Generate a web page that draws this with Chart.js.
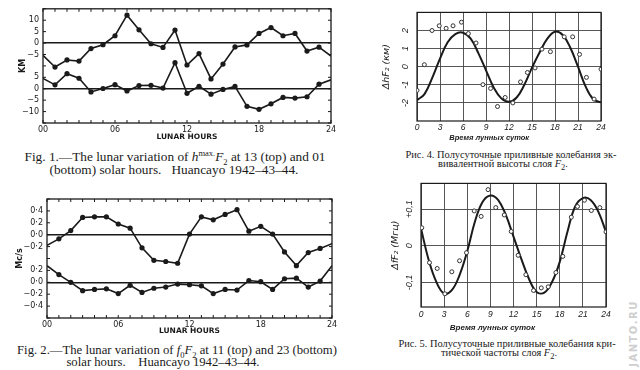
<!DOCTYPE html>
<html>
<head>
<meta charset="utf-8">
<script src="https://cdn.jsdelivr.net/npm/chart.js@4.4.1/dist/chart.umd.min.js"></script>
<style>
html, body { margin: 0; padding: 0; background: #fff; }
body { width: 640px; height: 370px; position: relative; overflow: hidden; color: #1a1a1a; }
.box { position: absolute; }
.cap { position: absolute; width: 360px; text-align: center; white-space: nowrap; line-height: 12px; }
.en { font: 13.3px 'Liberation Serif', serif; }
.en2 { font-size: 12.7px; }
.ru { font: 10.4px 'Liberation Serif', serif; width: 260px; line-height: 10px; }
.cap sup, .cap sub { font-size: 8.5px; line-height: 0; }
.mark { position: absolute; left: 598px; top: 328px; width: 70px; text-align: center;
        transform: rotate(-90deg); font: bold 10px 'DejaVu Sans', sans-serif; letter-spacing: 1.5px; color: #cfcfcf; }
</style>
</head>
<body>
<div class="box" style="left:0;top:0;width:340px;height:142px"><canvas id="fig1"></canvas></div>
<div class="box" style="left:0;top:190px;width:340px;height:146px"><canvas id="fig2"></canvas></div>
<div class="box" style="left:380px;top:0;width:230px;height:142px"><canvas id="fig4"></canvas></div>
<div class="box" style="left:380px;top:175px;width:235px;height:158px"><canvas id="fig5"></canvas></div>

<div class="cap en" style="left:-5px;top:149px">Fig. 1.—The lunar variation of <i>h</i><sup>max.</sup><i>F</i><sub>2</sub> at 13 (top) and 01</div>
<div class="cap en" style="left:-6px;top:162px">(bottom) solar hours.&nbsp;&nbsp; Huancayo 1942–43–44.</div>
<div class="cap en en2" style="left:-3px;top:343px">Fig. 2.—The lunar variation of <i>f</i><sub>0</sub><i>F</i><sub>2</sub> at 11 (top) and 23 (bottom)</div>
<div class="cap en en2" style="left:-17px;top:355px">solar hours.&nbsp;&nbsp;&nbsp; Huancayo 1942–43–44.</div>

<div class="cap ru" style="left:381px;top:150px">Рис. 4. Полусуточные приливные колебания эк-</div>
<div class="cap ru" style="left:373px;top:159px">вивалентной высоты слоя <i>F</i><sub>2</sub>.</div>
<div class="cap ru" style="left:377px;top:339px">Рис. 5. Полусуточные приливные колебания кри-</div>
<div class="cap ru" style="left:369px;top:348px">тической частоты слоя <i>F</i><sub>2</sub>.</div>

<div class="mark">JANTO.RU</div>

<script>
// lunar hours 00..24
const hours = [0, 1, 2, 3, 4, 5, 6, 7, 8, 9, 10, 11, 12, 13, 14, 15, 16, 17, 18, 19, 20, 21, 22, 23, 24];

// Fig. 1: h max F2, km (13h top, 01h bottom)
const fig1Top = [-5.4, -10.5, -7.4, -7.9, -2.4, -0.7, 3.2, 12.2, 5.8, -0.3, -1.9, 5.7, -9.6, -4.6, -15.7, -9.2, -1.7, -0.8, 4.2, 6.8, 3.2, 4.2, -3.5, -1.8, -5.7];
const fig1Bottom = [4.5, 1.7, 6.6, 4.6, -1.4, 0.1, 1.8, -1.0, 1.4, 1.5, 0.3, 11.4, -2.0, 1.1, -2.4, -0.3, 1.0, -7.7, -9.0, -6.6, -3.8, -4.1, -3.5, 2.0, 3.9];
// axis ticks (raw axis units; upper block is shifted by fig1Shift)
const fig1Ticks = [-15, -10, -5, 0, 5, 10, 15, 20, 25, 30, 35];

// Fig. 2: f0F2, Mc/s (11h top, 23h bottom)
const fig2Top = [-0.18, -0.07, 0.07, 0.29, 0.30, 0.30, 0.18, 0.11, -0.22, -0.43, -0.45, -0.48, 0.01, 0.30, 0.25, 0.34, 0.42, 0.06, 0.14, 0.01, -0.29, -0.52, -0.30, -0.23, -0.15];
const fig2Bottom = [0.28, 0.13, 0.0, -0.14, -0.12, -0.11, -0.19, -0.05, -0.17, -0.10, -0.08, -0.03, -0.04, -0.06, -0.19, -0.12, -0.13, 0.03, 0.01, -0.12, 0.06, 0.07, -0.08, 0.02, 0.28];
const fig2Ticks = [-0.6, -0.4, -0.2, 0, 0.2, 0.4, 0.6, 0.8, 1.0, 1.2, 1.4];

// Рис. 4: smooth curve (hourly) and observed points, km
const fig4Curve = [-1.85, -1.5, -0.6, 0.45, 1.35, 1.8, 1.88, 1.55, 0.75, -0.2, -1.15, -1.75, -1.94, -1.7, -1.0, -0.05, 0.8, 1.55, 1.93, 1.75, 1.05, 0.0, -1.1, -1.8, -1.97];
const fig4PointHours = [0, 0.96, 1.96, 2.9, 3.8, 4.7, 5.8, 6.7, 7.7, 8.6, 9.6, 10.5, 11.5, 12.5, 13.5, 14.4, 15.4, 16.3, 17.4, 19.2, 20.3, 21.2, 22.1, 23.1, 24];
const fig4Points = [-1.31, 0.11, 2.0, 2.26, 2.12, 2.26, 2.46, 1.83, 1.31, -0.99, -1.2, -2.2, -1.7, -2.0, -0.84, -0.32, -0.07, 0.97, 0.83, 1.65, 1.65, 0.68, -0.59, -1.79, -0.14];

// Рис. 5: smooth curve (hourly) and observed points, Мгц
const fig5Curve = [0.047, -0.039, -0.099, -0.13, -0.121, -0.08, -0.015, 0.066, 0.12, 0.137, 0.125, 0.084, 0.025, -0.035, -0.09, -0.126, -0.128, -0.099, -0.044, 0.038, 0.107, 0.13, 0.125, 0.093, 0.038];
const fig5PointHours = [0.1, 1.1, 2.1, 3.1, 4.0, 5.0, 5.9, 6.9, 7.8, 8.7, 9.7, 10.8, 11.7, 12.6, 13.6, 14.6, 15.6, 16.5, 17.5, 18.4, 19.5, 20.3, 21.2, 22.1, 23.2, 24];
const fig5Points = [0.049, -0.046, -0.062, -0.131, -0.071, -0.041, -0.019, 0.095, 0.08, 0.153, 0.104, 0.084, 0.039, -0.026, -0.079, -0.122, -0.115, -0.112, -0.073, -0.029, 0.078, 0.107, 0.124, 0.096, 0.104, 0.038];

// the upper curve of figs 1 and 2 is shifted up by this many axis units
const fig1Shift = 20;
const fig2Shift = 0.8;

Chart.defaults.animation = false;
Chart.defaults.responsive = true;
Chart.defaults.maintainAspectRatio = false;
Chart.defaults.color = '#1a1a1a';
Chart.defaults.font.family = "'DejaVu Sans', sans-serif";
Chart.defaults.plugins.legend.display = false;
Chart.defaults.plugins.tooltip.enabled = false;

const INK = '#1a1a1a';
const ITALIC = "'Liberation Sans', sans-serif";

// box round the plot area, with optional short ticks pointing inward
const framePlugin = {
    id: 'frame',
    beforeDatasetsDraw(chart, args, opts) {
        const { ctx, chartArea: a, scales } = chart;
        ctx.save();
        ctx.strokeStyle = INK;
        ctx.lineWidth = opts.width || 1;
        ctx.strokeRect(a.left, a.top, a.right - a.left, a.bottom - a.top);
        if (opts.tick) {
            ctx.lineWidth = 1;
            ctx.beginPath();
            scales.x.ticks.forEach(t => {
                const px = scales.x.getPixelForValue(t.value);
                ctx.moveTo(px, a.top); ctx.lineTo(px, a.top + opts.tick);
                ctx.moveTo(px, a.bottom); ctx.lineTo(px, a.bottom - opts.tick);
            });
            scales.y.ticks.forEach(t => {
                const py = scales.y.getPixelForValue(t.value);
                ctx.moveTo(a.left, py); ctx.lineTo(a.left + opts.tick, py);
                ctx.moveTo(a.right, py); ctx.lineTo(a.right - opts.tick, py);
            });
            ctx.stroke();
        }
        ctx.restore();
    }
};

const endless = ctx => (ctx.dataIndex === 0 || ctx.dataIndex === hours.length - 1) ? 0 : 2.6;

function lunarSeries(values, shift) {
    return {
        data: hours.map((h, i) => ({ x: h, y: values[i] + shift })),
        borderColor: INK,
        borderWidth: 1.6,
        pointRadius: endless,
        pointBackgroundColor: INK,
        pointBorderWidth: 0,
        tension: 0
    };
}

function lunarChart(id, top, bottom, shift, ticks, cfg) {
    const round = v => Math.round(v * 100) / 100;
    new Chart(document.getElementById(id), {
        type: 'line',
        data: { datasets: [lunarSeries(top, shift), lunarSeries(bottom, 0)] },
        options: {
            layout: { padding: cfg.pad },
            scales: {
                x: {
                    type: 'linear', min: 0, max: 24,
                    border: { display: false },
                    grid: { display: false, drawTicks: false },
                    ticks: {
                        stepSize: 1, autoSkip: false, maxRotation: 0, padding: cfg.xPad,
                        font: { size: 8 }, color: INK,
                        callback: v => v % 6 === 0 ? String(v).padStart(2, '0') : ''
                    },
                    title: { display: true, text: 'LUNAR HOURS', font: { size: 7.5, weight: 'bold' }, padding: { top: 0, bottom: 0 } },
                    afterFit: s => { s.height = cfg.xHeight; }
                },
                y: {
                    min: ticks[0], max: ticks[ticks.length - 1],
                    border: { display: false },
                    grid: {
                        drawTicks: false, lineWidth: 1.4,
                        color: c => (c.tick && (round(c.tick.value) === 0 || round(c.tick.value) === shift)) ? INK : 'rgba(0,0,0,0)'
                    },
                    afterBuildTicks: s => { s.ticks = ticks.map(v => ({ value: v })); },
                    ticks: {
                        autoSkip: false, padding: 4, font: { size: 8 }, color: INK,
                        callback: (v, i) => cfg.label(round(ticks[i]), i)
                    },
                    title: { display: true, text: cfg.title, font: { size: 8, weight: 'bold' }, padding: { top: cfg.titlePad, bottom: 0 } },
                    afterFit: s => { s.width = cfg.yWidth; }
                }
            },
            plugins: { frame: { width: 1.3, tick: 3 } }
        },
        plugins: [framePlugin]
    });
}

// first and last ticks sit on the frame; the middle tick separates the two blocks
const edgeOrGap = (i, n) => i === 0 || i === n - 1 || i === (n - 1) / 2;

lunarChart('fig1', fig1Top, fig1Bottom, fig1Shift, fig1Ticks, {
    pad: { left: 0, right: 9, top: 5, bottom: 0 },
    xHeight: 19, xPad: 2, yWidth: 43, titlePad: 18, title: 'KM',
    label: (v, i) => {
        if (edgeOrGap(i, fig1Ticks.length)) return '';
        const n = v > 10 ? v - fig1Shift : v;
        return n < 0 ? '−' + Math.abs(n) : String(n);
    }
});

lunarChart('fig2', fig2Top, fig2Bottom, fig2Shift, fig2Ticks, {
    pad: { left: 0, right: 8, top: 9, bottom: 0 },
    xHeight: 18, xPad: 2, yWidth: 47, titlePad: 15, title: 'Mc/s',
    label: (v, i) => {
        if (edgeOrGap(i, fig2Ticks.length)) return '';
        const n = Math.round((v > 0.4 ? v - fig2Shift : v) * 10);
        const s = '0·' + Math.abs(n);
        return n < 0 ? '−' + s : s;
    }
});

function tideChart(id, curve, ptHours, pts, cfg) {
    new Chart(document.getElementById(id), {
        type: 'scatter',
        data: {
            datasets: [
                {
                    data: ptHours.map((h, i) => ({ x: h, y: pts[i] })),
                    pointRadius: 2, pointBorderWidth: 1,
                    pointBackgroundColor: '#fff', pointBorderColor: '#333'
                },
                {
                    data: hours.map((h, i) => ({ x: h, y: curve[i] })),
                    showLine: true, pointRadius: 0, borderWidth: 2, borderColor: INK, tension: 0.4
                }
            ]
        },
        options: {
            layout: { padding: cfg.pad },
            scales: {
                x: {
                    type: 'linear', min: 0, max: 24,
                    border: { display: false },
                    grid: { drawTicks: false, color: '#444', lineWidth: 0.9 },
                    ticks: { stepSize: 3, maxRotation: 0, padding: cfg.xPad, color: INK,
                        font: { size: 8.5, style: 'italic', family: ITALIC } },
                    title: { display: true, text: 'Время лунных суток' + '\u00a0'.repeat(19),
                        font: { size: cfg.xTitleSize, style: 'italic', weight: 'bold', family: ITALIC },
                        padding: { top: 0, bottom: 0 } },
                    afterFit: s => { s.height = cfg.xHeight; }
                },
                y: {
                    min: cfg.min, max: cfg.max,
                    border: { display: false },
                    grid: { drawTicks: false, color: '#444', lineWidth: 0.9 },
                    afterBuildTicks: s => { s.ticks = cfg.ticks.map(v => ({ value: v })); },
                    ticks: { minRotation: 90, maxRotation: 90, crossAlign: 'center', padding: cfg.yPad, color: INK,
                        font: { size: 9, style: 'italic', family: ITALIC },
                        callback: (v, i) => cfg.label(cfg.ticks[i]) },
                    title: { display: true, text: cfg.title, font: { size: 9.5, style: 'italic' },
                        padding: { top: cfg.titlePad, bottom: 0 } },
                    afterFit: s => { s.width = cfg.yWidth; }
                }
            },
            plugins: { frame: { width: 1.2 } }
        },
        plugins: [framePlugin]
    });
}

tideChart('fig4', fig4Curve, fig4PointHours, fig4Points, {
    pad: { left: 0, right: 9, top: 10, bottom: 0 },
    min: -3, max: 3, ticks: [-2, -1, 0, 1, 2],
    xHeight: 21, xPad: 2, xTitleSize: 7.5, yWidth: 37, yPad: 7, titlePad: 1,
    title: 'ΔhF₂ (км)',
    label: v => v < 0 ? '-' + Math.abs(v) : String(v)
});

tideChart('fig5', fig5Curve, fig5PointHours, fig5Points, {
    pad: { left: 0, right: 9, top: 8, bottom: 0 },
    min: -0.167, max: 0.17, ticks: [-0.1, 0, 0.1],
    xHeight: 26, xPad: 3, xTitleSize: 8, yWidth: 41, yPad: 3, titlePad: 10,
    title: 'ΔfF₂ (Мгц)',
    label: v => v === 0 ? '0' : (v > 0 ? '+0,1' : '-0,1')
});
</script>
</body>
</html>
